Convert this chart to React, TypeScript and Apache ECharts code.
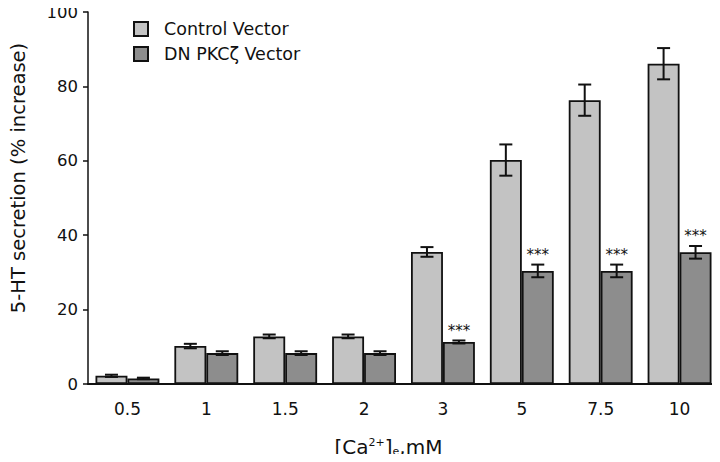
import React, { useEffect, useRef } from "react";
import * as echarts from "echarts";

const categories = ["0.5", "1", "1.5", "2", "3", "5", "7.5", "10"];
const controlValues = [2.2, 10.2, 12.8, 12.8, 35.5, 60.2, 76.3, 86.1];
const controlErrors = [0.3, 0.6, 0.5, 0.5, 1.3, 4.2, 4.2, 4.2];
const dnValues = [1.5, 8.3, 8.3, 8.3, 11.3, 30.4, 30.4, 35.4];
const dnErrors = [0.2, 0.5, 0.5, 0.5, 0.4, 1.7, 1.7, 1.7];
const dnSignificance = ["", "", "", "", "***", "***", "***", "***"];
const yTicks = [0, 20, 40, 60, 80, 100];

const FONT = "DejaVu Sans";
const GAP = 0.19;

function makeErrorSeries(name: string, values: number[], errors: number[], side: number, sig: string[]) {
  const data = values.map((v, i) => [i, v - errors[i], v + errors[i], sig[i] ? 1 : 0]);
  return {
    type: "custom",
    name: name + " err",
    z: 5,
    silent: true,
    encode: { x: 0, y: [1, 2] },
    data,
    renderItem: (params: any, api: any) => {
      const idx = api.value(0);
      const lo = api.coord([idx, api.value(1)]);
      const hi = api.coord([idx, api.value(2)]);
      const band = api.size([1, 0])[0];
      const barW = (band * (1 - GAP)) / 2;
      const x = lo[0] + (side * barW) / 2;
      const cap = 6.5;
      const st = { stroke: "#111", lineWidth: 2 };
      const children: any[] = [
        { type: "line", shape: { x1: x, y1: lo[1], x2: x, y2: hi[1] }, style: st },
        { type: "line", shape: { x1: x - cap, y1: lo[1], x2: x + cap, y2: lo[1] }, style: st },
        { type: "line", shape: { x1: x - cap, y1: hi[1], x2: x + cap, y2: hi[1] }, style: st },
      ];
      if (api.value(3) === 1) {
        children.push({
          type: "text",
          style: {
            text: sig[params.dataIndex],
            x: x,
            y: hi[1] - 2,
            align: "center",
            verticalAlign: "bottom",
            fontFamily: FONT,
            fontSize: 15,
            fill: "#111",
            stroke: "none",
            lineWidth: 0,
          },
        });
      }
      return { type: "group", children };
    },
  };
}

export default function App() {
  const ref = useRef<HTMLDivElement>(null);
  useEffect(() => {
    if (!ref.current) return;
    const chart = echarts.init(ref.current, undefined, { renderer: "svg" });
    chart.setOption({
      animation: false,
      backgroundColor: "#fff",
      textStyle: { fontFamily: FONT },
      grid: { left: 87, right: 1, top: 12, bottom: 74 },
      legend: {
        left: 133,
        top: 20,
        padding: 0,
        orient: "vertical",
        itemWidth: 14,
        itemHeight: 14,
        itemGap: 7,
        icon: "rect",
        data: ["Control Vector", "DN PKCζ Vector"],
        textStyle: { fontFamily: FONT, fontSize: 17.5, color: "#111", padding: [0, 0, 0, 11] },
      },
      xAxis: {
        type: "category",
        data: categories,
        axisLine: { lineStyle: { color: "#111", width: 2 } },
        axisTick: { show: false },
        axisLabel: { fontFamily: FONT, fontSize: 17, color: "#111", margin: 16 },
        name: "[Ca{sup|2+}]{sub|e},mM",
        nameLocation: "middle",
        nameGap: 52,
        nameTextStyle: {
          fontFamily: FONT,
          fontSize: 20,
          color: "#111",
          padding: [0, 30, 0, 0],
          rich: {
            sup: { fontFamily: FONT, fontSize: 11, color: "#111", padding: [0, 0, 9, 0] },
            sub: { fontFamily: FONT, fontSize: 11, color: "#111", padding: [10, 0, 0, 0] },
          },
        },
      },
      yAxis: {
        type: "value",
        min: 0,
        max: 100,
        interval: 20,
        axisLine: { show: true, lineStyle: { color: "#111", width: 1.5 } },
        axisTick: { show: true, length: 5, lineStyle: { color: "#111", width: 1.5 } },
        axisLabel: {
          fontFamily: FONT,
          fontSize: 16.5,
          color: "#111",
          margin: 10,
          formatter: (v: number) => (yTicks.includes(v) ? String(v) : ""),
        },
        splitLine: { show: false },
        name: "5-HT secretion (% increase)",
        nameLocation: "middle",
        nameGap: 60,
        nameRotate: 90,
        nameTextStyle: { fontFamily: FONT, fontSize: 19.5, color: "#111", padding: [0, 0, 0, 40] },
      },
      series: [
        {
          name: "Control Vector",
          type: "bar",
          data: controlValues,
          barGap: "0%",
          barCategoryGap: GAP * 100 + "%",
          itemStyle: { color: "#c3c3c3", borderColor: "#111", borderWidth: 1.8 },
        },
        {
          name: "DN PKCζ Vector",
          type: "bar",
          data: dnValues,
          barGap: "0%",
          barCategoryGap: GAP * 100 + "%",
          itemStyle: { color: "#8d8d8d", borderColor: "#111", borderWidth: 1.8 },
        },
        makeErrorSeries("Control Vector", controlValues, controlErrors, -1, categories.map(() => "")),
        makeErrorSeries("DN PKCζ Vector", dnValues, dnErrors, 1, dnSignificance),
      ],
    });
    return () => chart.dispose();
  }, []);
  return <div ref={ref} style={{ width: 720, height: 462, margin: -8 }} />;
}
